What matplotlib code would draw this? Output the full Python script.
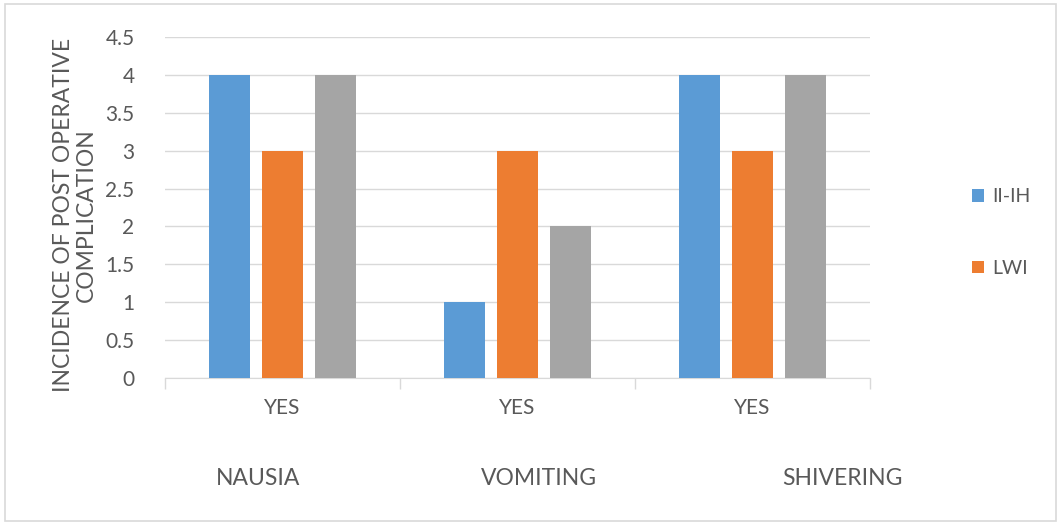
import matplotlib
matplotlib.use("Agg")
import matplotlib.pyplot as plt
import numpy as np
from matplotlib.patches import Rectangle

groups = ["NAUSIA", "VOMITING", "SHIVERING"]
sublabels = ["YES", "YES", "YES"]
series_names = ["II-IH", "LWI", ""]
ii_ih = [4, 1, 4]
lwi = [3, 3, 3]
third = [4, 2, 4]
colors = ["#5b9bd5", "#ed7d31", "#a5a5a5"]
yticks = [0, 0.5, 1, 1.5, 2, 2.5, 3, 3.5, 4, 4.5]

TXT = "#595959"
plt.rcParams["font.family"] = ["Lato", "DejaVu Sans"]

fig = plt.figure(figsize=(10.61, 5.25), dpi=100)
fig.patches.append(Rectangle((0.005, 0.008), 0.99, 0.984, transform=fig.transFigure,
                             fill=False, edgecolor="#d9d9d9", lw=1.2))
ax = fig.add_axes([0.1555, 0.28, 0.6645, 0.6495])

x = np.arange(len(groups))
w = 0.175
step = 0.225
bars = []
for i, (vals, c) in enumerate(zip([ii_ih, lwi, third], colors)):
    b = ax.bar(x + (i - 1) * step, vals, w, color=c, zorder=3)
    bars.append(b)

ax.set_xlim(-0.5, len(groups) - 0.5)
ax.set_ylim(0, 4.5)
ax.set_yticks(yticks)
ax.set_yticklabels([f"{t:g}" for t in yticks], fontsize=15, color=TXT)
ax.grid(axis="y", color="#d9d9d9", lw=1, zorder=0)
for s in ["top", "right", "left"]:
    ax.spines[s].set_visible(False)
ax.spines["bottom"].set_color("#d9d9d9")
ax.tick_params(axis="y", length=0, pad=22)

# category boundary ticks, then the "YES" row
ax.set_xticks(np.arange(len(groups) + 1) - 0.5)
ax.set_xticklabels([])
ax.tick_params(axis="x", length=8, color="#d9d9d9", width=1)
for xi, s in zip(x, sublabels):
    ax.text(xi, -0.4, s, ha="center", va="center", fontsize=15, color=TXT)

# group names sit in a separate row, not centred on the categories
for fx, g in zip([0.243, 0.508, 0.794], groups):
    fig.text(fx, 0.0895, g, ha="center", va="center", fontsize=16.5, color=TXT)

fig.text(0.071, 0.59, "INCIDENCE OF POST OPERATIVE\nCOMPLICATION", rotation=90,
         ha="center", va="center", fontsize=16.5, color=TXT, linespacing=1.1)

fig.legend([bars[0], bars[1]], series_names[:2], loc="center left",
           bbox_to_anchor=(0.9, 0.557), frameon=False, fontsize=14,
           labelcolor=TXT, handlelength=0.6, handleheight=0.6,
           handletextpad=0.4, labelspacing=2.8)

fig.savefig("out.png", dpi=100)
